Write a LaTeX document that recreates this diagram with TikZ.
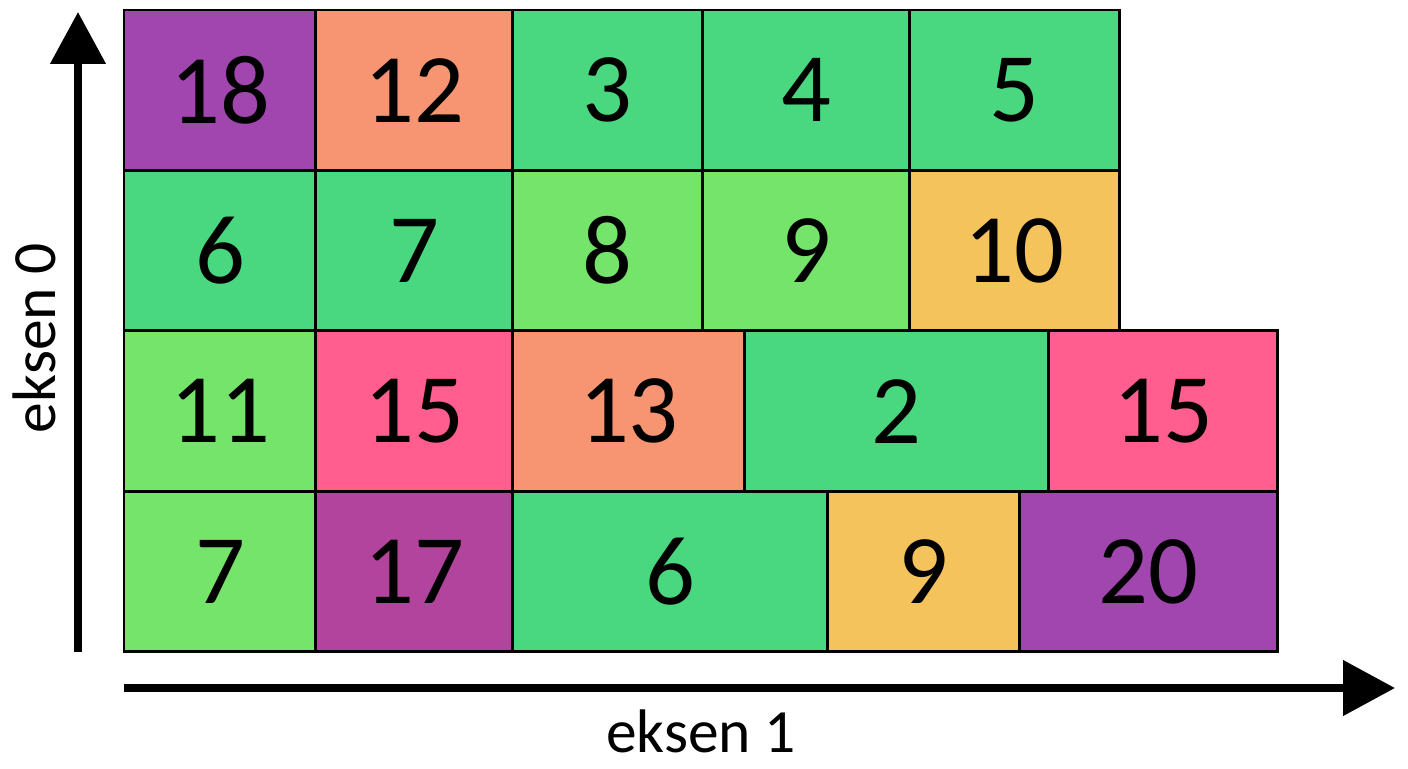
\documentclass[tikz,border=0pt]{standalone}
\usepackage{fontspec}
\setmainfont{Carlito}
\usepackage{xcolor}
\usepackage{tikz}
\usetikzlibrary{positioning,arrows.meta}

\definecolor{cellviolet}{HTML}{A146AE}
\definecolor{cellmagenta}{HTML}{B3449D}
\definecolor{cellsalmon}{HTML}{F79471}
\definecolor{cellgreen}{HTML}{49D77F}
\definecolor{celllime}{HTML}{75E46B}
\definecolor{cellyellow}{HTML}{F5C35C}
\definecolor{cellpink}{HTML}{FF5E8E}

\begin{document}
\begin{tikzpicture}[
    x=0.02cm, y=-0.02cm,
    cell/.style={draw, line width=1.7pt, minimum height=3.21cm, inner sep=0pt, outer sep=0pt, font=\fontsize{56}{60}\selectfont},
    axisarrow/.style={line width=4.5pt, -{Triangle[length=1.04cm, width=1.08cm]}},
    axislabel/.style={font=\fontsize{35}{40}\selectfont, inner sep=0pt}
]
\useasboundingbox (0,0) rectangle (1408,768);

% row 1
\node[cell, anchor=north west, fill=cellviolet, minimum width=3.84cm] (r1c1) at (124,10) {18};
\node[cell, right=0pt of r1c1, fill=cellsalmon, minimum width=3.94cm] (r1c2) {12};
\node[cell, right=0pt of r1c2, fill=cellgreen, minimum width=3.80cm] (r1c3) {3};
\node[cell, right=0pt of r1c3, fill=cellgreen, minimum width=4.14cm] (r1c4) {4};
\node[cell, right=0pt of r1c4, fill=cellgreen, minimum width=4.20cm] (r1c5) {5};

% row 2
\node[cell, below=0pt of r1c1, fill=cellgreen, minimum width=3.84cm] (r2c1) {6};
\node[cell, right=0pt of r2c1, fill=cellgreen, minimum width=3.94cm] (r2c2) {7};
\node[cell, right=0pt of r2c2, fill=celllime, minimum width=3.80cm] (r2c3) {8};
\node[cell, right=0pt of r2c3, fill=celllime, minimum width=4.14cm] (r2c4) {9};
\node[cell, right=0pt of r2c4, fill=cellyellow, minimum width=4.20cm] (r2c5) {10};

% row 3
\node[cell, below=0pt of r2c1, fill=celllime, minimum width=3.84cm] (r3c1) {11};
\node[cell, right=0pt of r3c1, fill=cellpink, minimum width=3.94cm] (r3c2) {15};
\node[cell, right=0pt of r3c2, fill=cellsalmon, minimum width=4.64cm] (r3c3) {13};
\node[cell, right=0pt of r3c3, fill=cellgreen, minimum width=6.08cm] (r3c4) {2};
\node[cell, right=0pt of r3c4, fill=cellpink, minimum width=4.58cm] (r3c5) {15};

% row 4
\node[cell, below=0pt of r3c1, fill=celllime, minimum width=3.84cm] (r4c1) {7};
\node[cell, right=0pt of r4c1, fill=cellmagenta, minimum width=3.94cm] (r4c2) {17};
\node[cell, right=0pt of r4c2, fill=cellgreen, minimum width=6.30cm] (r4c3) {6};
\node[cell, right=0pt of r4c3, fill=cellyellow, minimum width=3.84cm] (r4c4) {9};
\node[cell, right=0pt of r4c4, fill=cellviolet, minimum width=5.16cm] (r4c5) {20};

% axes
\coordinate (ystart) at (78,652);
\coordinate (yend) at (78,12);
\coordinate (xstart) at (124,688);
\coordinate (xend) at (1395,688);
\draw[axisarrow] (ystart) -- (yend);
\draw[axisarrow] (xstart) -- (xend);

\node[axislabel, rotate=90] (lab0) at (34,338) {eksen 0};
\node[axislabel] (lab1) at (701,731) {eksen 1};

\end{tikzpicture}
\end{document}
